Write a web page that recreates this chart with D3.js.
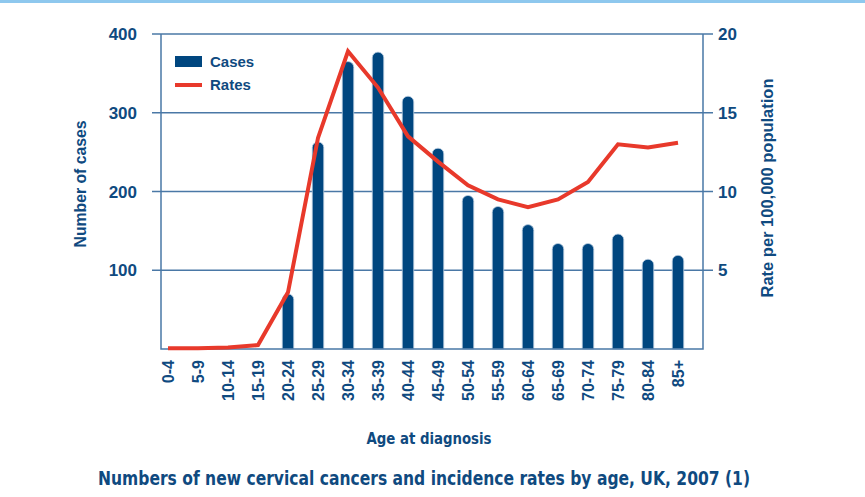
<!DOCTYPE html>
<html lang="en">
<head>
<meta charset="UTF-8">
<title>Cervical cancer by age</title>
<script src="https://cdn.jsdelivr.net/npm/d3@7"></script>
<style>
  body { margin: 0; background: #fff; }
  text { fill: #0f4a80; font-family: "Liberation Sans", Arial, sans-serif; font-weight: bold; }
  .narrow { font-family: "Liberation Sans Narrow", "DejaVu Sans", sans-serif; font-stretch: condensed; }
</style>
</head>
<body>
<div id="chart"></div>
<script>

// age bands and values
var ages = ["0-4","5-9","10-14","15-19","20-24","25-29","30-34","35-39","40-44",
            "45-49","50-54","55-59","60-64","65-69","70-74","75-79","80-84","85+"];
var cases = [0, 0, 0, 0, 70, 263, 365, 377, 321, 255, 195, 181, 158, 134, 134, 146, 114, 119];
var rates = [0.05, 0.05, 0.1, 0.25, 3.6, 13.4, 18.9, 16.6, 13.5, 11.9, 10.4, 9.5, 9.0, 9.5, 10.6, 13.0, 12.8, 13.1];
var leftTicks = [100, 200, 300, 400];
var rightTicks = [5, 10, 15, 20];

var W = 865, H = 497;
var blue = "#00467f", red = "#e8392b", axisCol = "#4a78a6";

var svg = d3.select("#chart").append("svg")
  .attr("width", W).attr("height", H);

// light band along the top
svg.append("rect").attr("x", 0).attr("y", 0).attr("width", W).attr("height", 3)
  .attr("fill", "#8ec8ee");

var plotL = 161, plotR = 703, plotT = 34, plotB = 349;

var x = d3.scaleBand().domain(ages).range([153, 693]);
var yL = d3.scaleLinear().domain([0, 400]).range([plotB, plotT]);
var yR = d3.scaleLinear().domain([0, 20]).range([plotB, plotT]);

// gridlines with tick stubs on both sides
svg.append("g").selectAll("line")
  .data(leftTicks).enter().append("line")
    .attr("x1", plotL - 9).attr("x2", plotR + 10)
    .attr("y1", function(d) { return yL(d); })
    .attr("y2", function(d) { return yL(d); })
    .attr("stroke", axisCol).attr("stroke-width", 1.3);

// left axis labels
svg.append("g").selectAll("text")
  .data(leftTicks).enter().append("text")
    .attr("x", 137).attr("y", function(d) { return yL(d); })
    .attr("dy", "0.36em").attr("text-anchor", "end")
    .style("font-size", "17px")
    .text(function(d) { return d; });

// right axis labels
svg.append("g").selectAll("text")
  .data(rightTicks).enter().append("text")
    .attr("x", 718).attr("y", function(d) { return yR(d); })
    .attr("dy", "0.36em")
    .style("font-size", "17px")
    .text(function(d) { return d; });

// bars with rounded tops
var bw = 11.5;
svg.append("g").selectAll("path")
  .data(cases).enter().append("path")
    .attr("d", function(d, i) {
      if (d <= 0) return null;
      var cx = x(ages[i]) + x.bandwidth() / 2;
      var x0 = cx - bw / 2, x1 = cx + bw / 2, r = bw / 2;
      var yt = yL(d);
      return "M" + x0 + "," + plotB + "V" + (yt + r) +
        "A" + r + "," + r + " 0 0 1 " + x1 + "," + (yt + r) +
        "V" + plotB + "Z";
    })
    .attr("fill", blue)
    .attr("stroke", "#b9cde0").attr("stroke-width", 0.8);

// axis frame
svg.append("path")
  .attr("d", "M" + plotL + "," + plotT + "V" + plotB + "H" + plotR + "V" + plotT)
  .attr("fill", "none").attr("stroke", axisCol).attr("stroke-width", 1.5);

// rate line
var line = d3.line()
  .x(function(d, i) { return x(ages[i]) + x.bandwidth() / 2; })
  .y(function(d) { return yR(d); });
svg.append("path").datum(rates)
  .attr("d", line)
  .attr("fill", "none").attr("stroke", red).attr("stroke-width", 4)
  .attr("stroke-linejoin", "miter");

// x labels, rotated
svg.append("g").selectAll("text")
  .data(ages).enter().append("text")
    .attr("transform", function(d) {
      return "translate(" + (x(d) + x.bandwidth() / 2) + ",360) rotate(-90)";
    })
    .attr("dy", "0.36em").attr("text-anchor", "end")
    .style("font-size", "16px")
    .text(function(d) { return d; });

// legend
svg.append("rect").attr("x", 175).attr("y", 56).attr("width", 27).attr("height", 11)
  .attr("fill", blue);
svg.append("text").attr("x", 210).attr("y", 62).attr("dy", "0.36em")
  .style("font-size", "15px").text("Cases");
svg.append("line").attr("x1", 175).attr("x2", 202).attr("y1", 85).attr("y2", 85)
  .attr("stroke", red).attr("stroke-width", 4);
svg.append("text").attr("x", 210).attr("y", 85).attr("dy", "0.36em")
  .style("font-size", "15px").text("Rates");

// axis titles
svg.append("text")
  .attr("transform", "translate(80,184) rotate(-90)")
  .attr("dy", "0.36em").attr("text-anchor", "middle")
  .attr("textLength", 127).attr("lengthAdjust", "spacingAndGlyphs")
  .style("font-size", "16px").text("Number of cases");
svg.append("text")
  .attr("transform", "translate(767,188) rotate(-90)")
  .attr("dy", "0.36em").attr("text-anchor", "middle")
  .attr("textLength", 219).attr("lengthAdjust", "spacingAndGlyphs")
  .style("font-size", "16px").text("Rate per 100,000 population");

svg.append("text").attr("class", "narrow")
  .attr("x", 429).attr("y", 438).attr("dy", "0.36em").attr("text-anchor", "middle")
  .attr("textLength", 125).attr("lengthAdjust", "spacingAndGlyphs")
  .style("font-size", "16px").text("Age at diagnosis");

// title
svg.append("text").attr("class", "narrow")
  .attr("x", 424).attr("y", 478).attr("dy", "0.36em").attr("text-anchor", "middle")
  .attr("textLength", 652).attr("lengthAdjust", "spacingAndGlyphs")
  .style("font-size", "20px")
  .text("Numbers of new cervical cancers and incidence rates by age, UK, 2007 (1)");

</script>
</body>
</html>
